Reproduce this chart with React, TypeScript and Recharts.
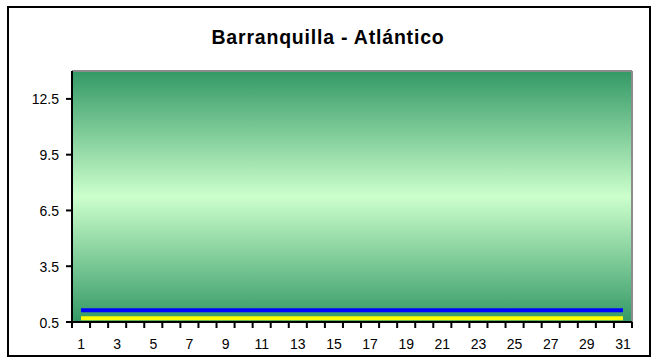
import React from "react";
import { LineChart, Line, XAxis, YAxis, CartesianGrid, ReferenceLine } from "recharts";

const days: number[] = Array.from({ length: 31 }, (_, i) => i + 1);
const blueValues: number[] = [
  1.13, 1.13, 1.13, 1.13, 1.13, 1.13, 1.13, 1.13, 1.13, 1.13, 1.13, 1.13, 1.13, 1.13, 1.13, 1.13,
  1.13, 1.13, 1.13, 1.13, 1.13, 1.13, 1.13, 1.13, 1.13, 1.13, 1.13, 1.13, 1.13, 1.13, 1.13,
];
const yellowValues: number[] = [
  0.7, 0.7, 0.7, 0.7, 0.7, 0.7, 0.7, 0.7, 0.7, 0.7, 0.7, 0.7, 0.7, 0.7, 0.7, 0.7,
  0.7, 0.7, 0.7, 0.7, 0.7, 0.7, 0.7, 0.7, 0.7, 0.7, 0.7, 0.7, 0.7, 0.7, 0.7,
];
const yTicks: number[] = [0.5, 3.5, 6.5, 9.5, 12.5];
const xTicks: number[] = Array.from({ length: 63 }, (_, i) => 0.5 + i * 0.5);

const data = days.map((d, i) => ({ day: d, blue: blueValues[i], yellow: yellowValues[i] }));

const FONT = "'Liberation Sans', Arial, sans-serif";

// default tickSize (6) + tickMargin (2) => tick y is 8px below the axis line
const XTick = (props: any) => {
  const { x, y, payload } = props;
  const v = payload.value as number;
  if (Math.abs(v - Math.round(v)) > 0.01) {
    return <line x1={x} x2={x} y1={y - 8} y2={y - 2} stroke="#000" strokeWidth={2} />;
  }
  if (Math.round(v) % 2 === 1) {
    return (
      <text x={x} y={y + 19} textAnchor="middle" fontSize={14} fontFamily={FONT} fill="#000">
        {Math.round(v)}
      </text>
    );
  }
  return <g />;
};

// default tickSize (6) + tickMargin (2) => tick x is 8px left of the axis line
const YTick = (props: any) => {
  const { x, y, payload } = props;
  return (
    <g>
      <line x1={x + 2} x2={x + 8} y1={y} y2={y} stroke="#000" strokeWidth={2} />
      <text x={x - 5} y={y + 5.5} textAnchor="end" fontSize={14} fontFamily={FONT} fill="#000">
        {payload.value}
      </text>
    </g>
  );
};

export default function App() {
  return (
    <div style={{ position: "absolute", left: 0, top: 0, width: 656, height: 358, background: "#fff" }}>
      <div
        style={{
          position: "absolute",
          left: 7,
          top: 6,
          width: 644,
          height: 351,
          boxSizing: "border-box",
          border: "2px solid #000",
        }}
      />
      <div
        style={{
          position: "absolute",
          left: 0,
          top: 26,
          width: 656,
          textAlign: "center",
          fontFamily: FONT,
          fontWeight: "bold",
          fontSize: 19.5,
          letterSpacing: 0.8,
          lineHeight: "normal",
          color: "#000",
        }}
      >
        Barranquilla - Atlántico
      </div>
      <div style={{ position: "absolute", left: 0, top: 0 }}>
        <LineChart width={656} height={358} data={data} margin={{ top: 71, right: 24, bottom: 0, left: 0 }}>
          <defs>
            <linearGradient id="plotBg" x1="0" y1="0" x2="0" y2="1">
              <stop offset="0%" stopColor="#339966" />
              <stop offset="50%" stopColor="#CCFFCC" />
              <stop offset="100%" stopColor="#339966" />
            </linearGradient>
          </defs>
          <CartesianGrid fill="url(#plotBg)" horizontal={false} vertical={false} stroke="none" />
          <XAxis
            dataKey="day"
            type="number"
            domain={[0.5, 31.5]}
            ticks={xTicks}
            interval={0}
            tick={<XTick />}
            tickLine={false}
            axisLine={{ stroke: "#000", strokeWidth: 2 }}
            height={36}
          />
          <YAxis
            type="number"
            domain={[0.5, 14]}
            ticks={yTicks}
            interval={0}
            tick={<YTick />}
            tickLine={false}
            axisLine={{ stroke: "#000", strokeWidth: 2 }}
            width={72}
            allowDataOverflow
          />
          <ReferenceLine y={14} stroke="#8c8c8c" strokeWidth={2} />
          <ReferenceLine x={31.5} stroke="#8c8c8c" strokeWidth={2} />
          <Line dataKey="yellow" stroke="#FFFF00" strokeWidth={4} dot={false} isAnimationActive={false} />
          <Line dataKey="blue" stroke="#0000FF" strokeWidth={4} dot={false} isAnimationActive={false} />
        </LineChart>
      </div>
    </div>
  );
}
